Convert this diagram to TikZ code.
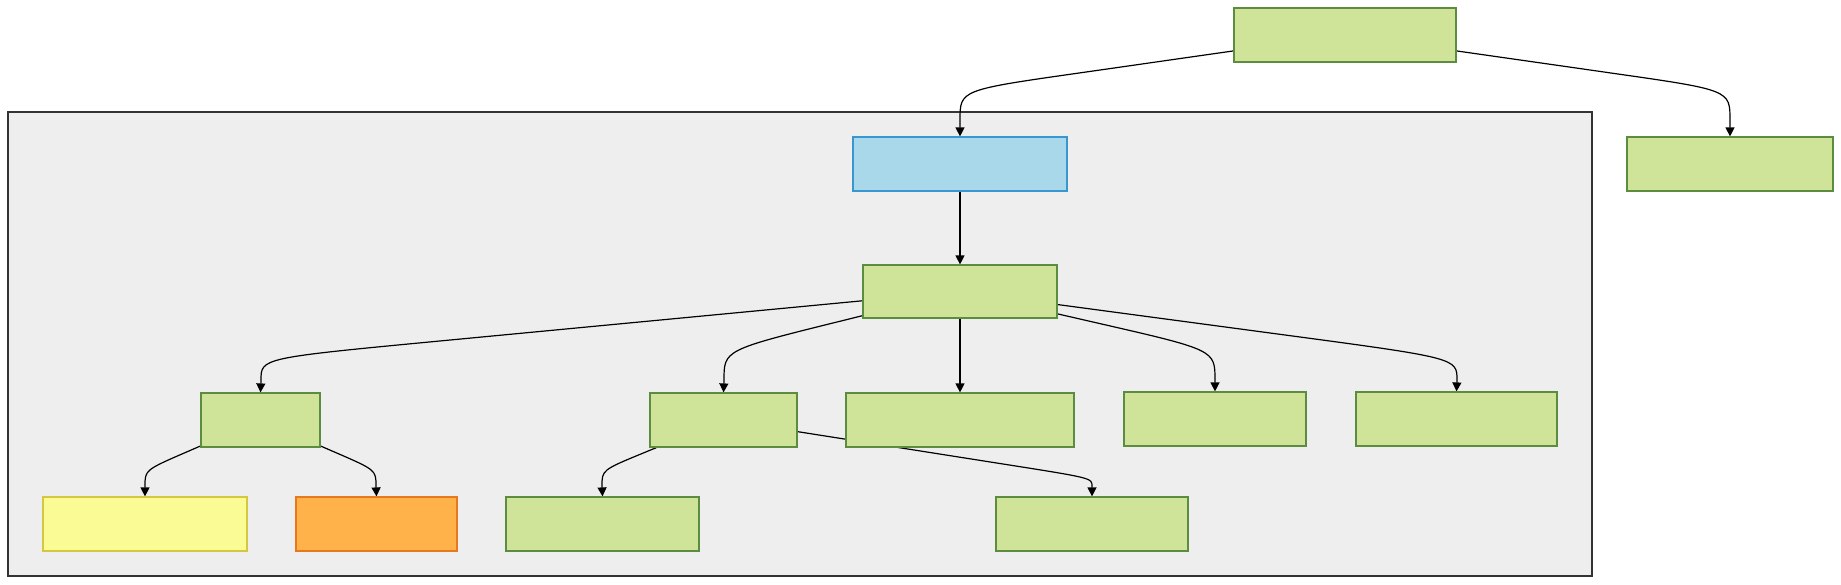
\documentclass[tikz,border=0pt]{standalone}
\usetikzlibrary{arrows.meta,calc}
\definecolor{gfill}{RGB}{207,227,153}
\definecolor{gdraw}{RGB}{92,140,64}
\definecolor{bfill}{RGB}{169,216,234}
\definecolor{bdraw}{RGB}{58,150,207}
\definecolor{yfill}{RGB}{251,251,149}
\definecolor{ydraw}{RGB}{212,200,64}
\definecolor{ofill}{RGB}{255,177,74}
\definecolor{odraw}{RGB}{232,120,30}
\definecolor{cfill}{RGB}{238,238,238}
\definecolor{cdraw}{RGB}{51,51,51}
\pgfdeclarelayer{bg}
\pgfdeclarelayer{edges}
\pgfsetlayers{bg,edges,main}
\tikzset{
  box/.style={rectangle, draw, line width=0.6pt, inner sep=0pt, minimum height=27pt},
  gbox/.style={box, fill=gfill, draw=gdraw},
  bbox/.style={box, fill=bfill, draw=bdraw},
  ybox/.style={box, fill=yfill, draw=ydraw},
  obox/.style={box, fill=ofill, draw=odraw},
  edge/.style={draw=black, line width=0.6pt, -{Triangle[length=4.5pt,width=4.5pt]}},
}
% \bendedge{from}{to}{corner x,y}{lead px}{drop px}
\newcommand{\bendedge}[5]{%
  \coordinate (tmpc) at (#3);
  \draw[edge] (#1) -- ($(tmpc)!#4*0.5pt!(#1)$) .. controls (tmpc) .. ($(tmpc)+(0,#5)$) -- (#2.north);
}
\begin{document}
\begin{tikzpicture}[x=0.5pt,y=-0.5pt]
\useasboundingbox (0,0) rectangle (1841,584);
% nodes
\node[gbox, minimum width=111pt] (top) at (1345,35) {};
\node[gbox, minimum width=103pt] (right) at (1730,164) {};
\node[bbox, minimum width=107pt] (blue) at (960,164) {};
\node[gbox, minimum width=97pt, minimum height=26.5pt] (mid) at (960,291.5) {};
\node[gbox, minimum width=59.5pt] (n1) at (260.5,420) {};
\node[gbox, minimum width=73.5pt] (nA) at (723.5,420) {};
\node[gbox, minimum width=114pt] (nB) at (960,420) {};
\node[gbox, minimum width=91pt] (nC) at (1215,419) {};
\node[gbox, minimum width=100.5pt] (nD) at (1456.5,419) {};
\node[ybox, minimum width=102pt] (yel) at (145,524) {};
\node[obox, minimum width=80.5pt] (ora) at (376.5,524) {};
\node[gbox, minimum width=96.5pt] (bl) at (602.5,524) {};
\node[gbox, minimum width=96pt] (br) at (1092,524) {};
% container
\begin{pgfonlayer}{bg}
\node[draw=cdraw, fill=cfill, line width=1pt, rectangle, inner sep=0pt, minimum width=792pt, minimum height=232pt] (cont) at (800,344) {};
\end{pgfonlayer}
% edges
\begin{pgfonlayer}{edges}
\bendedge{top}{blue}{960,90}{120}{30}
\bendedge{top}{right}{1730,90}{120}{30}
\draw[edge] (blue) -- (mid);
\bendedge{mid}{n1}{261,358}{180}{22}
\bendedge{mid}{nA}{724,350}{120}{30}
\draw[edge] (mid) -- (nB);
\bendedge{mid}{nC}{1215,350}{120}{30}
\bendedge{mid}{nD}{1457,358}{180}{22}
\bendedge{n1}{yel}{145,470}{45}{16}
\bendedge{n1}{ora}{376,470}{45}{16}
\bendedge{nA}{bl}{602,470}{45}{16}
\bendedge{nA}{br}{1092,478}{90}{8}
\end{pgfonlayer}
\end{tikzpicture}
\end{document}
